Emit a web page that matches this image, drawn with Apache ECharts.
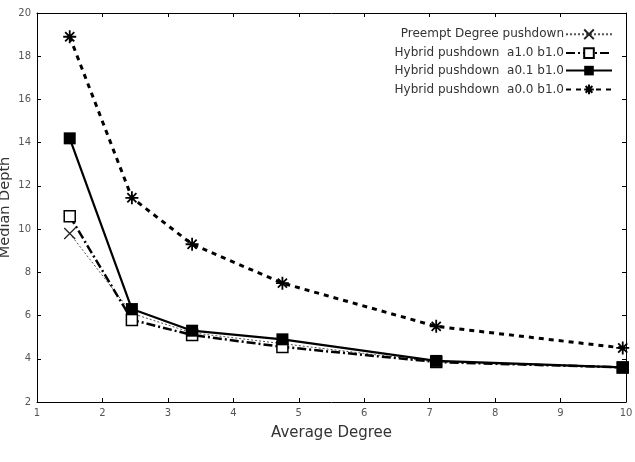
<!DOCTYPE html>
<html>
<head>
<meta charset="utf-8">
<script src="https://cdn.jsdelivr.net/npm/echarts@6/dist/echarts.min.js"></script>
<style>
  html, body { margin: 0; padding: 0; background: #fff; }
  #chart { width: 635px; height: 462px; }
</style>
</head>
<body>
<div id="chart"></div>
<script>
// average degree (x) for each measured point
const avgDegree = [1.5, 2.45, 3.37, 4.75, 7.1, 9.95];
// median depth per series
const preempt = [9.8, 6.1, 5.2, 4.7, 3.85, 3.6];
const hybridA10 = [10.6, 5.8, 5.1, 4.55, 3.85, 3.6];
const hybridA01 = [14.2, 6.3, 5.3, 4.9, 3.9, 3.6];
const hybridA00 = [18.9, 11.45, 9.3, 7.5, 5.5, 4.5];
const seriesNames = [
  "Preempt Degree pushdown",
  "Hybrid pushdown  a1.0 b1.0",
  "Hybrid pushdown  a0.1 b1.0",
  "Hybrid pushdown  a0.0 b1.0"
];

const pairs = (ys) => avgDegree.map((x, i) => [x, ys[i]]);
const font = "DejaVu Sans";

const myChart = echarts.init(document.getElementById("chart"), null, { renderer: "canvas" });

const axisBase = {
  axisLine: { show: true, lineStyle: { color: "#000", width: 1 } },
  axisTick: { show: true, inside: true, length: 4, lineStyle: { color: "#000" } },
  splitLine: { show: false }
};

const option = {
  animation: false,
  backgroundColor: "#fff",
  grid: { left: 37, top: 13, width: 589, height: 389, containLabel: false, outerBoundsMode: "none" },
  legend: {
    orient: "vertical",
    right: 17,
    top: 22,
    align: "right",
    itemWidth: 46,
    itemHeight: 12,
    itemGap: 5.5,
    textStyle: { fontFamily: font, fontSize: 12, color: "#333", padding: [0, -3, 0, 0] },
    data: seriesNames
  },
  xAxis: [
    Object.assign({}, axisBase, {
      type: "value", min: 1, max: 10, interval: 1,
      name: "Average Degree", nameLocation: "middle", nameGap: 24,
      nameMoveOverlap: false,
      nameTextStyle: { fontFamily: font, fontSize: 15, color: "#333" },
      axisLabel: { fontFamily: font, fontSize: 10, color: "#555", margin: 6 }
    }),
    Object.assign({}, axisBase, {
      type: "value", min: 1, max: 10, interval: 1, position: "top",
      axisLabel: { show: false }
    })
  ],
  yAxis: [
    Object.assign({}, axisBase, {
      type: "value", min: 2, max: 20, interval: 2,
      name: "Median Depth", nameLocation: "middle", nameGap: 24,
      nameMoveOverlap: false,
      nameTextStyle: { fontFamily: font, fontSize: 14.5, color: "#333" },
      axisLabel: { fontFamily: font, fontSize: 10, color: "#555", margin: 6 }
    }),
    Object.assign({}, axisBase, {
      type: "value", min: 2, max: 20, interval: 2, position: "right",
      axisLabel: { show: false }
    })
  ],
  series: [
    {
      name: seriesNames[0], type: "line", data: pairs(preempt),
      symbol: "path://M0,0L10,10M10,0L0,10", symbolSize: 11,
      lineStyle: { color: "#555", width: 1, type: [2, 2] },
      itemStyle: { color: "none", borderColor: "#222", borderWidth: 1.3 }
    },
    {
      name: seriesNames[1], type: "line", data: pairs(hybridA10),
      symbol: "rect", symbolSize: 11,
      lineStyle: { color: "#000", width: 2.5, type: [9, 3, 2, 3] },
      itemStyle: { color: "#fff", borderColor: "#000", borderWidth: 1.5 }
    },
    {
      name: seriesNames[2], type: "line", data: pairs(hybridA01),
      symbol: "rect", symbolSize: 12,
      lineStyle: { color: "#000", width: 2.2, type: "solid" },
      itemStyle: { color: "#000", borderColor: "#000", borderWidth: 0 }
    },
    {
      name: seriesNames[3], type: "line", data: pairs(hybridA00),
      symbol: "path://M5,0L5,10M0,5L10,5M1.5,1.5L8.5,8.5M8.5,1.5L1.5,8.5", symbolSize: 13,
      lineStyle: { color: "#000", width: 3, type: [5, 5] },
      itemStyle: { color: "none", borderColor: "#000", borderWidth: 1.8 }
    }
  ]
};

myChart.setOption(option);
</script>
</body>
</html>
